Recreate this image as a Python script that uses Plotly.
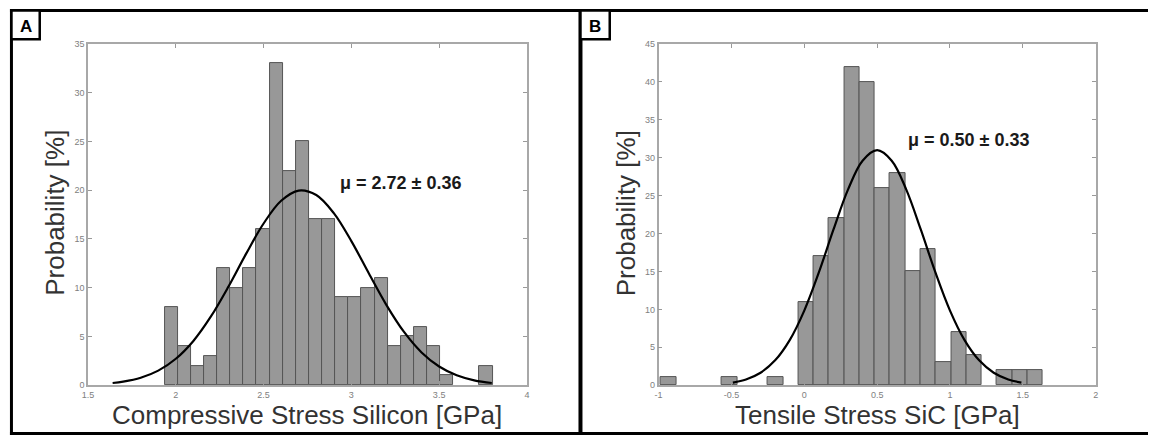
import plotly.graph_objects as go

W, H = 1151, 440

# ---------------- Data: Panel A (compressive stress, silicon) ----------------
a_bin_centers = [1.974, 2.049, 2.124, 2.198, 2.273, 2.348, 2.422, 2.497, 2.572,
                 2.647, 2.721, 2.796, 2.871, 2.945, 3.020, 3.095, 3.170, 3.244,
                 3.319, 3.394, 3.468, 3.543, 3.767]
a_counts = [8, 4, 2, 3, 12, 10, 12, 16, 33, 22, 25, 17, 17, 9, 9, 10, 11, 4,
            5, 6, 4, 1, 2]
a_bin_width = 0.0747
a_fit_x = [1.64, 1.7, 1.8, 1.9, 2.0, 2.1, 2.2, 2.3, 2.4, 2.5, 2.6, 2.7, 2.8,
           2.9, 3.0, 3.1, 3.2, 3.3, 3.4, 3.5, 3.6, 3.7, 3.8]
a_fit_y = [0.22, 0.36, 0.76, 1.49, 2.71, 4.54, 7.05, 10.12, 13.47, 16.59,
           18.92, 19.97, 19.51, 17.65, 14.78, 11.46, 8.22, 5.46, 3.36, 1.91,
           1.01, 0.49, 0.22]
a_label = "μ = 2.72 ± 0.36"
a_xticks = [1.5, 2, 2.5, 3, 3.5, 4]
a_xticktext = ["1.5", "2", "2.5", "3", "3.5", "4"]
a_yticks = [0, 5, 10, 15, 20, 25, 30, 35]

# ---------------- Data: Panel B (tensile stress, SiC) ----------------
b_bin_centers = [-0.932, -0.512, -0.198, 0.012, 0.117, 0.222, 0.326, 0.431,
                 0.536, 0.641, 0.746, 0.850, 0.955, 1.060, 1.165, 1.374,
                 1.479, 1.584]
b_counts = [1, 1, 1, 11, 17, 22, 42, 40, 26, 28, 15, 18, 3, 7, 4, 2, 2, 2]
b_bin_width = 0.1048
b_fit_x = [-0.49, -0.4, -0.3, -0.2, -0.1, 0.0, 0.1, 0.2, 0.3, 0.4, 0.5, 0.6,
           0.7, 0.8, 0.9, 1.0, 1.1, 1.2, 1.3, 1.4, 1.49]
b_fit_y = [0.34, 0.75, 1.64, 3.27, 5.94, 9.84, 14.87, 20.51, 25.80, 29.61,
           31.0, 29.61, 25.80, 20.51, 14.87, 9.84, 5.94, 3.27, 1.64, 0.75, 0.34]
b_label = "μ = 0.50 ± 0.33"
b_xticks = [-1, -0.5, 0, 0.5, 1, 1.5, 2]
b_xticktext = ["-1", "-0.5", "0", "0.5", "1", "1.5", "2"]
b_yticks = [0, 5, 10, 15, 20, 25, 30, 35, 40, 45]

# ---------------- Figure ----------------
FONT = "Arial, Liberation Sans, sans-serif"
BAR_FILL = "#989898"
BAR_LINE = "#555555"

def px_x(p):
    return p / W

def px_y(p):
    return 1 - p / H

fig = go.Figure()

fig.add_trace(go.Bar(x=a_bin_centers, y=a_counts, width=a_bin_width,
                     marker=dict(color=BAR_FILL, line=dict(color=BAR_LINE, width=1)),
                     xaxis="x", yaxis="y", showlegend=False))
fig.add_trace(go.Scatter(x=a_fit_x, y=a_fit_y, mode="lines", line_shape="spline",
                         line=dict(color="black", width=2.2),
                         xaxis="x", yaxis="y", showlegend=False))
fig.add_trace(go.Bar(x=b_bin_centers, y=b_counts, width=b_bin_width,
                     marker=dict(color=BAR_FILL, line=dict(color=BAR_LINE, width=1)),
                     xaxis="x2", yaxis="y2", showlegend=False))
fig.add_trace(go.Scatter(x=b_fit_x, y=b_fit_y, mode="lines", line_shape="spline",
                         line=dict(color="black", width=2.2),
                         xaxis="x2", yaxis="y2", showlegend=False))

axis_common = dict(showgrid=False, zeroline=False, showline=True,
                   linecolor="#a8a8a8", linewidth=1.5, mirror="ticks",
                   ticks="inside", ticklen=4, tickwidth=1, tickcolor="#999999",
                   tickfont=dict(family=FONT, size=9, color="#808080"))

ydom = [px_y(389), px_y(40)]

fig.update_layout(
    width=W, height=H,
    margin=dict(l=0, r=0, t=0, b=0),
    paper_bgcolor="white", plot_bgcolor="white",
    bargap=0,
    xaxis=dict(domain=[px_x(82.7), px_x(525)], range=[1.5, 4],
               tickvals=a_xticks, ticktext=a_xticktext, anchor="y", **axis_common),
    yaxis=dict(domain=ydom, range=[0, 35], tickvals=a_yticks, anchor="x",
               **axis_common),
    xaxis2=dict(domain=[px_x(657.7), px_x(1098.3)], range=[-1, 2],
                tickvals=b_xticks, ticktext=b_xticktext, anchor="y2", **axis_common),
    yaxis2=dict(domain=ydom, range=[0, 45], tickvals=b_yticks, anchor="x2",
                **axis_common),
)

title_font = dict(family=FONT, size=26, color="#333333")
ann = []
# axis titles
ann.append(dict(text="Compressive Stress Silicon [GPa]", xref="paper", yref="paper",
                x=px_x(303.5), y=px_y(420), xanchor="center", yanchor="middle",
                showarrow=False, font=title_font))
ann.append(dict(text="Tensile Stress SiC [GPa]", xref="paper", yref="paper",
                x=px_x(878), y=px_y(420), xanchor="center", yanchor="middle",
                showarrow=False, font=title_font))
ann.append(dict(text="Probability [%]", xref="paper", yref="paper",
                x=px_x(50), y=px_y(213), xanchor="center", yanchor="middle",
                textangle=-90, showarrow=False, font=title_font))
ann.append(dict(text="Probability [%]", xref="paper", yref="paper",
                x=px_x(625), y=px_y(213), xanchor="center", yanchor="middle",
                textangle=-90, showarrow=False, font=title_font))
# mean labels
mu_font = dict(family=FONT, size=18, color="#1a1a1a")
ann.append(dict(text="<b>%s</b>" % a_label, xref="paper", yref="paper",
                x=px_x(335), y=px_y(182), xanchor="left", yanchor="middle",
                showarrow=False, font=mu_font))
ann.append(dict(text="<b>%s</b>" % b_label, xref="paper", yref="paper",
                x=px_x(906.7), y=px_y(138.5), xanchor="left", yanchor="middle",
                showarrow=False, font=mu_font))
# panel letters
lab_font = dict(family=FONT, size=17, color="black")
ann.append(dict(text="<b>A</b>", xref="paper", yref="paper",
                x=px_x(20), y=px_y(22), xanchor="center", yanchor="middle",
                showarrow=False, font=lab_font))
ann.append(dict(text="<b>B</b>", xref="paper", yref="paper",
                x=px_x(594), y=px_y(22), xanchor="center", yanchor="middle",
                showarrow=False, font=lab_font))
fig.update_layout(annotations=ann)

# frame lines and label boxes
shapes = []
def hline(y, x0, x1, w=3):
    shapes.append(dict(type="line", xref="paper", yref="paper",
                       x0=px_x(x0), x1=px_x(x1), y0=px_y(y), y1=px_y(y),
                       line=dict(color="black", width=w)))
def vline(x, y0, y1, w=3):
    shapes.append(dict(type="line", xref="paper", yref="paper",
                       x0=px_x(x), x1=px_x(x), y0=px_y(y0), y1=px_y(y1),
                       line=dict(color="black", width=w)))
hline(5.5, 4, W)
hline(438.5, 4, W)
vline(5.5, 4, 440)
vline(579, 4, 440, w=4)
for (x0, x1) in [(5.5, 34), (579, 608.5)]:
    shapes.append(dict(type="rect", xref="paper", yref="paper",
                       x0=px_x(x0), x1=px_x(x1), y0=px_y(35), y1=px_y(5.5),
                       line=dict(color="black", width=2.5), fillcolor="white"))
fig.update_layout(shapes=shapes)

fig.write_html("out.html",
               config={"displayModeBar": False},
               post_script="document.body.style.margin='0';"
                           "document.body.style.overflow='hidden';")
